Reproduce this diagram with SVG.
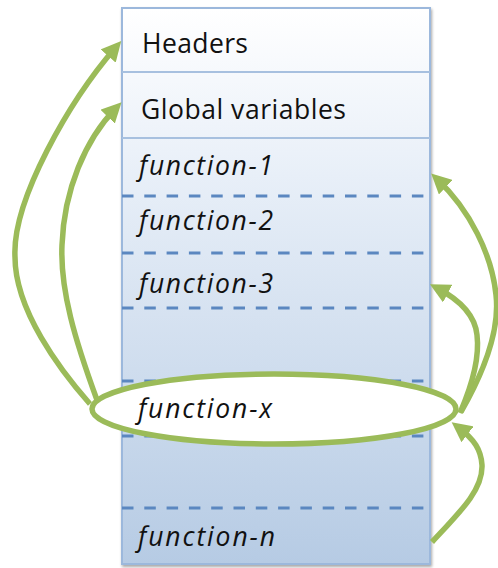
<svg xmlns="http://www.w3.org/2000/svg" width="498" height="568" viewBox="0 0 498 568">
  <defs>
    <linearGradient id="boxFill" x1="0" y1="0" x2="0" y2="1">
      <stop offset="0" stop-color="#ffffff"/>
      <stop offset="0.3" stop-color="#e8eff8"/>
      <stop offset="1" stop-color="#b6cbe4"/>
    </linearGradient>
    <filter id="shadow" x="-5%" y="-5%" width="115%" height="115%">
      <feGaussianBlur in="SourceAlpha" stdDeviation="1.5"/>
      <feOffset dx="1" dy="2" result="b"/>
      <feComponentTransfer><feFuncA type="linear" slope="0.35"/></feComponentTransfer>
      <feMerge><feMergeNode/><feMergeNode in="SourceGraphic"/></feMerge>
    </filter>
    <marker id="arrow" markerUnits="userSpaceOnUse" markerWidth="20" markerHeight="20" viewBox="0 0 20 20" refX="12" refY="10" orient="auto">
      <path d="M0,0 L20,10 L0,20 z" fill="#9bbb59"/>
    </marker>
  </defs>
  <style>
    .lbl { font-family: "Open Sans", "Liberation Sans", sans-serif; font-size: 26.5px; fill: #111111; }
    .fn { font-style: italic; }
    .sep { stroke: #a7c0df; stroke-width: 2; }
    .dash { stroke: #5b87c0; stroke-width: 3; stroke-dasharray: 11.5 10.8; }
    .conn { fill: none; stroke: #9bbb59; stroke-width: 5.5; marker-end: url(#arrow); }
  </style>

  <g id="memory-box">
    <rect x="122" y="8" width="308" height="556" fill="url(#boxFill)" stroke="#9cb8dc" stroke-width="2" filter="url(#shadow)"/>
    <line class="sep" x1="122" y1="72" x2="430" y2="72"/>
    <line class="sep" x1="122" y1="138" x2="430" y2="138"/>
    <line class="dash" x1="122" y1="196" x2="426" y2="196"/>
    <line class="dash" x1="122" y1="253" x2="426" y2="253"/>
    <line class="dash" x1="122" y1="308" x2="426" y2="308"/>
    <line class="dash" x1="122" y1="381" x2="426" y2="381"/>
    <line class="dash" x1="122" y1="436" x2="426" y2="436"/>
    <line class="dash" x1="122" y1="508" x2="426" y2="508"/>
  </g>

  <g id="headers"><text class="lbl" x="142" y="53" textLength="106" lengthAdjust="spacing">Headers</text></g>
  <g id="global-variables"><text class="lbl" x="141" y="119" textLength="205" lengthAdjust="spacing">Global variables</text></g>
  <g id="function-1"><text class="lbl fn" x="139" y="175" textLength="134" lengthAdjust="spacing">function-1</text></g>
  <g id="function-2"><text class="lbl fn" x="139" y="230" textLength="134" lengthAdjust="spacing">function-2</text></g>
  <g id="function-3"><text class="lbl fn" x="139" y="293" textLength="134" lengthAdjust="spacing">function-3</text></g>
  <g id="function-x">
    <ellipse cx="274" cy="409" rx="182" ry="35" fill="#ffffff" stroke="#9bbb59" stroke-width="5.5"/>
    <text class="lbl fn" x="138" y="418" textLength="134" lengthAdjust="spacing">function-x</text>
  </g>
  <g id="function-n"><text class="lbl fn" x="138" y="546" textLength="137" lengthAdjust="spacing">function-n</text></g>

  <g id="connectors">
    <path class="conn" d="M90,404 C60,370 15,310 15,257 C12,200 70,100 116,47"/>
    <path class="conn" d="M97,400 C75,340 60,290 62,245 C64,190 85,140 116,108"/>
    <path class="conn" d="M461,412 C485,370 500,330 496,295 C492,255 470,210 437,179"/>
    <path class="conn" d="M460,413 C470,390 480,360 477,335 C475,315 460,300 437,288"/>
    <path class="conn" d="M432,542 C460,512 483,490 482,465 C481,450 475,440 458,427"/>
  </g>
</svg>
